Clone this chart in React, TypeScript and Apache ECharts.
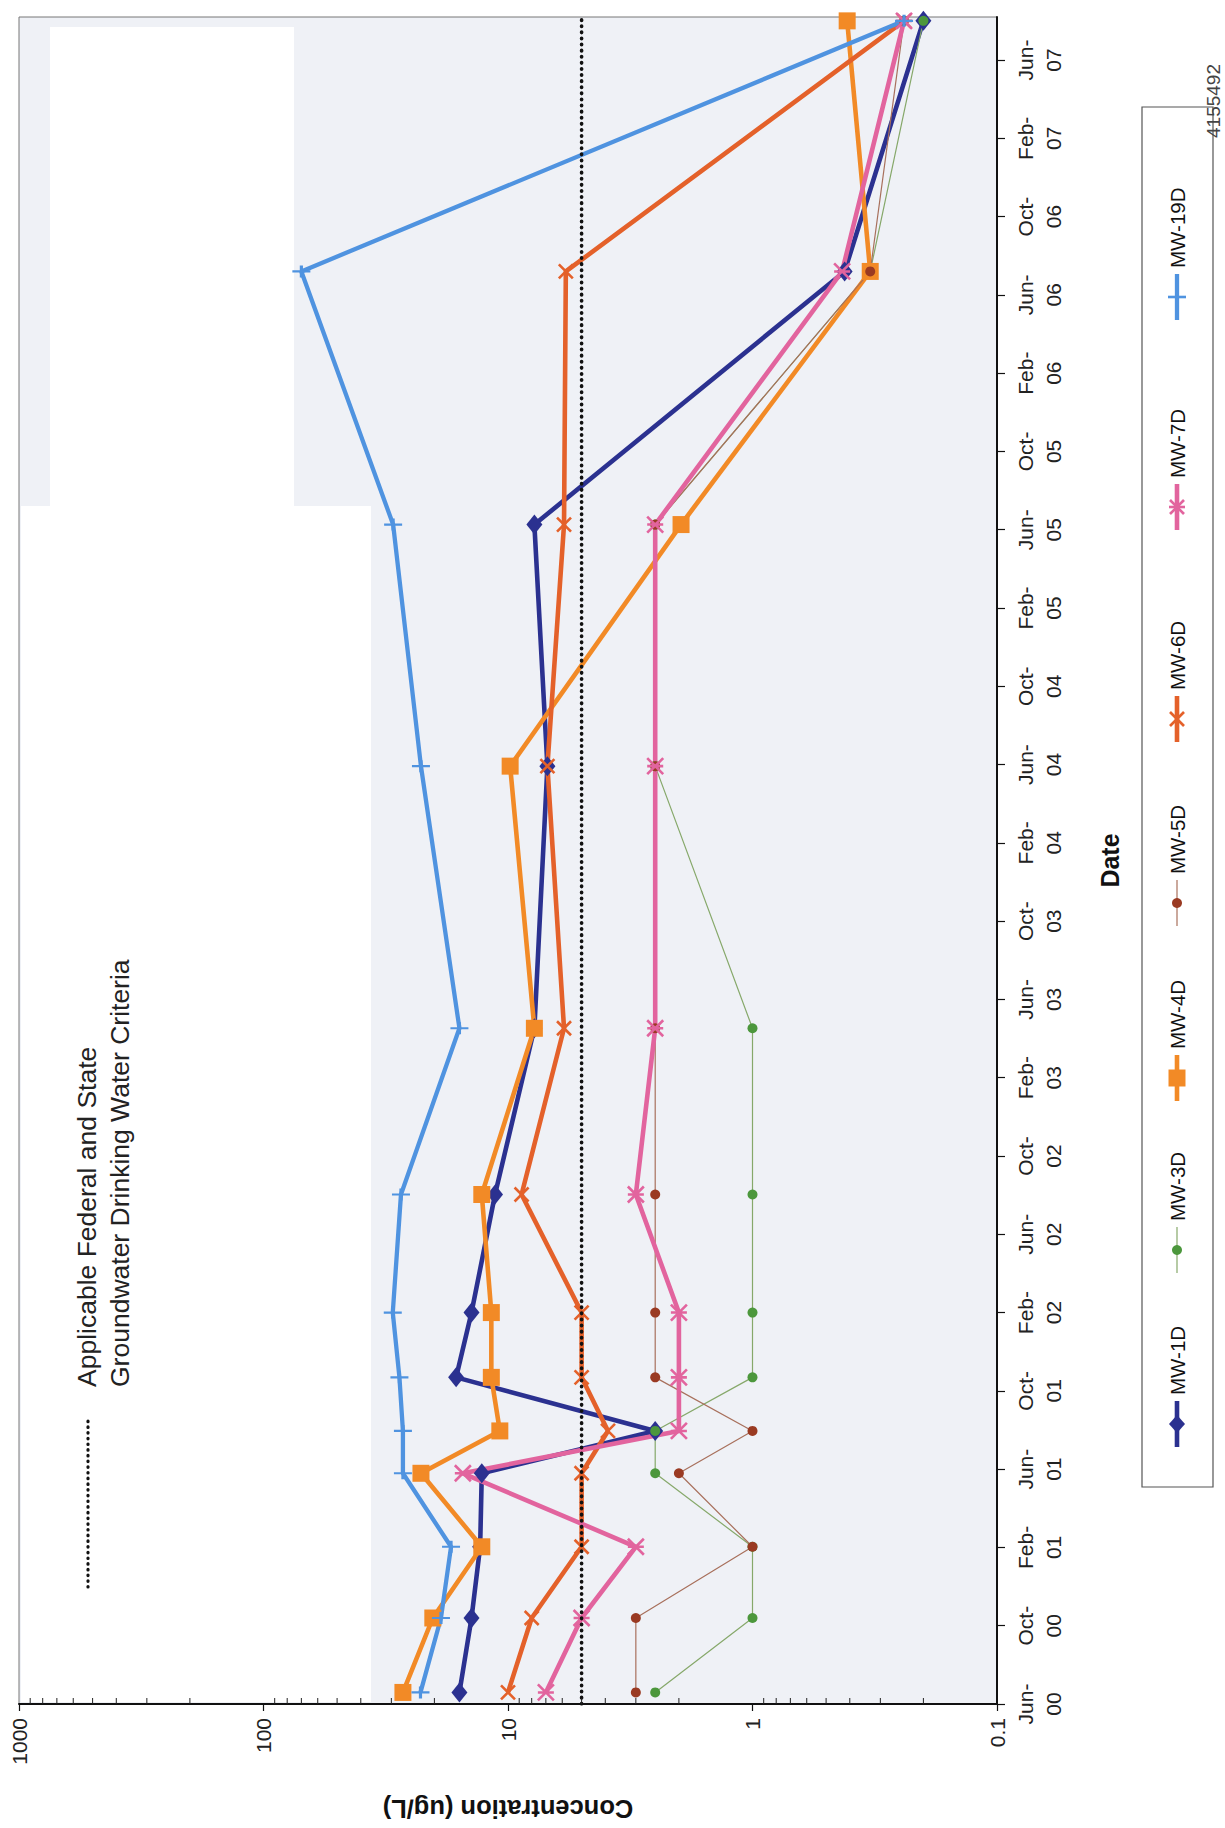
import React, { useEffect, useRef } from 'react';
import * as echarts from 'echarts';

const FONT = '"Liberation Sans", Arial, Helvetica, sans-serif';

// ---- Data ----
const SAMPLE_DATES = [
  '2000-06-19', '2000-10-13', '2001-02-02', '2001-05-25', '2001-07-30', '2001-10-22',
  '2002-02-01', '2002-08-02', '2003-04-17', '2004-05-29', '2005-06-09', '2006-07-07', '2007-08-01',
];
const MW_1D = [15.8, 14.1, 13.0, 12.8, 2.5, 16.3, 14.1, 11.3, 7.8, 6.9, 7.8, 0.42, 0.2];
const MW_3D = [2.5, 1.0, 1.0, 2.5, 2.5, 1.0, 1.0, 1.0, 1.0, 2.5, 2.5, 0.33, 0.2];
const MW_4D = [26.9, 20.3, 12.8, 22.7, 10.8, 11.7, 11.7, 12.8, 7.8, 9.8, 1.96, 0.33, 0.41];
const MW_5D = [3.0, 3.0, 1.0, 2.0, 1.0, 2.5, 2.5, 2.5, 2.5, 2.5, 2.5, 0.33, 0.24];
const MW_6D = [10, 8.0, 5.0, 5.0, 3.9, 5.0, 5.0, 8.8, 5.9, 6.9, 5.9, 5.8, 0.24];
const MW_7D = [7.0, 5.0, 3.0, 15.3, 2.0, 2.0, 2.0, 3.0, 2.5, 2.5, 2.5, 0.43, 0.24];
const MW_19D = [22.8, 18.8, 17.1, 26.9, 26.9, 27.8, 29.6, 27.4, 15.8, 22.7, 29.5, 70, 0.24];

const CRITERIA = 5;
const AXIS_START_DATE = '2000-06-01';
const AXIS_END_DATE = '2007-08-07';

const DATE_TICK_LABELS = [
  'Jun-\n00', 'Oct-\n00', 'Feb-\n01', 'Jun-\n01', 'Oct-\n01', 'Feb-\n02', 'Jun-\n02', 'Oct-\n02',
  'Feb-\n03', 'Jun-\n03', 'Oct-\n03', 'Feb-\n04', 'Jun-\n04', 'Oct-\n04', 'Feb-\n05', 'Jun-\n05',
  'Oct-\n05', 'Feb-\n06', 'Jun-\n06', 'Oct-\n06', 'Feb-\n07', 'Jun-\n07',
];
const MONTHS_PER_TICK = 4;
const CONC_TICKS = [0.1, 1, 10, 100, 1000];
const CONC_TICK_LABELS = ['0.1', '1', '10', '100', '1000'];
const MINOR_TICKS = [
  0.2, 0.3, 0.4, 0.5, 0.6, 0.7, 0.8, 0.9,
  2, 3, 4, 5, 6, 7, 8, 9,
  20, 30, 40, 50, 60, 70, 80, 90,
  200, 300, 400, 500, 600, 700, 800, 900,
];

// ---- Styles ----
const X_PATH = 'path://M0,0L10,10M10,0L0,10';
const AST_PATH = 'path://M0,0L10,10M10,0L0,10M0,5L10,5';
const PLUS_PATH = 'path://M0,5L10,5M5,0L5,10';

type Kind = 'diamond' | 'dot' | 'square' | 'x' | 'asterisk' | 'plus';
const SERIES: { name: string; values: number[]; color: string; markColor: string; width: number; kind: Kind }[] = [
  { name: 'MW-1D', values: MW_1D, color: '#2b3190', markColor: '#2b3190', width: 4.6, kind: 'diamond' },
  { name: 'MW-3D', values: MW_3D, color: '#86a86a', markColor: '#4c973c', width: 1.2, kind: 'dot' },
  { name: 'MW-4D', values: MW_4D, color: '#f28a26', markColor: '#f28a26', width: 4.6, kind: 'square' },
  { name: 'MW-5D', values: MW_5D, color: '#a8705c', markColor: '#9a3a22', width: 1.2, kind: 'dot' },
  { name: 'MW-6D', values: MW_6D, color: '#e4612a', markColor: '#e4612a', width: 4.6, kind: 'x' },
  { name: 'MW-7D', values: MW_7D, color: '#e2649e', markColor: '#e2649e', width: 4.6, kind: 'asterisk' },
  { name: 'MW-19D', values: MW_19D, color: '#4f93e0', markColor: '#4f93e0', width: 4.3, kind: 'plus' },
];

function monthsSinceStart(d: string): number {
  const [y, m, day] = d.split('-').map(Number);
  const [y0, m0, d0] = AXIS_START_DATE.split('-').map(Number);
  return (y - y0) * 12 + (m - m0) + (day - d0) / 30.44;
}
const AXIS_MAX = monthsSinceStart(AXIS_END_DATE);
const DATE_TICK_POS = DATE_TICK_LABELS.map((_, i) => i * MONTHS_PER_TICK);

function symbolFor(kind: Kind): { symbol: string; size: number | number[]; stroke: boolean } {
  switch (kind) {
    case 'diamond': return { symbol: 'diamond', size: [16, 20], stroke: false };
    case 'dot': return { symbol: 'circle', size: 10, stroke: false };
    case 'square': return { symbol: 'rect', size: 17, stroke: false };
    case 'x': return { symbol: X_PATH, size: 14, stroke: true };
    case 'asterisk': return { symbol: AST_PATH, size: 16, stroke: true };
    default: return { symbol: PLUS_PATH, size: [18, 12], stroke: true };
  }
}

// ---- Layout (legend / annotation positions) ----
const LEGEND_BOX = { x: 1142, y: 107, w: 71, h: 1380 };
const LEGEND_CX = 1177;
const LEGEND_MARKER_Y = [1424, 1250, 1078, 903, 719, 507, 297];

function legendMarker(kind: Kind, cx: number, cy: number, color: string): any[] {
  const s = { stroke: color, lineWidth: 2.6 };
  switch (kind) {
    case 'diamond':
      return [{ type: 'polygon', shape: { points: [[cx, cy - 9], [cx + 8, cy], [cx, cy + 9], [cx - 8, cy]] }, style: { fill: color } }];
    case 'dot':
      return [{ type: 'circle', shape: { cx, cy, r: 5 }, style: { fill: color } }];
    case 'square':
      return [{ type: 'rect', shape: { x: cx - 8.5, y: cy - 8.5, width: 17, height: 17 }, style: { fill: color } }];
    case 'x':
      return [
        { type: 'line', shape: { x1: cx - 7, y1: cy - 7, x2: cx + 7, y2: cy + 7 }, style: s },
        { type: 'line', shape: { x1: cx + 7, y1: cy - 7, x2: cx - 7, y2: cy + 7 }, style: s },
      ];
    case 'asterisk':
      return [
        { type: 'line', shape: { x1: cx - 7, y1: cy - 7, x2: cx + 7, y2: cy + 7 }, style: s },
        { type: 'line', shape: { x1: cx + 7, y1: cy - 7, x2: cx - 7, y2: cy + 7 }, style: s },
        { type: 'line', shape: { x1: cx - 8, y1: cy, x2: cx + 8, y2: cy }, style: s },
      ];
    default:
      return [{ type: 'line', shape: { x1: cx - 9, y1: cy, x2: cx + 9, y2: cy }, style: s }];
  }
}

function buildOption(): any {
  const lineSeries = SERIES.map((s) => {
    const sym = symbolFor(s.kind);
    return {
      name: s.name,
      type: 'line',
      data: SAMPLE_DATES.map((d, i) => [s.values[i], monthsSinceStart(d)]),
      lineStyle: { color: s.color, width: s.width },
      symbol: sym.symbol,
      symbolSize: sym.size,
      showAllSymbol: true,
      itemStyle: sym.stroke
        ? { color: s.markColor, borderColor: s.markColor, borderWidth: 2.6 }
        : { color: s.markColor, borderWidth: 0 },
      z: 3,
      silent: true,
    };
  });

  const criteriaSeries = {
    name: 'Criteria',
    type: 'line',
    data: [[CRITERIA, 0], [CRITERIA, AXIS_MAX]],
    symbol: 'none',
    lineStyle: { color: '#111', width: 3.6, type: [0.5, 5.6], cap: 'round' },
    z: 4,
    silent: true,
  };

  const minorTickSeries = {
    name: 'minorTicks',
    type: 'custom',
    data: MINOR_TICKS.map((v) => [v, 0]),
    renderItem: (_p: any, api: any) => {
      const pt = api.coord([api.value(0), 0]);
      return {
        type: 'line',
        shape: { x1: pt[0], y1: pt[1], x2: pt[0], y2: pt[1] - 6 },
        style: { stroke: '#222', lineWidth: 1 },
      };
    },
    clip: false,
    silent: true,
    z: 5,
  };

  const graphic: any[] = [
    // scan-like lighter panels inside the plot
    { type: 'rect', shape: { x: 50, y: 27, width: 244, height: 479 }, style: { fill: '#ffffff' }, z: 1, silent: true },
    { type: 'rect', shape: { x: 21, y: 506, width: 350, height: 1196 }, style: { fill: '#ffffff' }, z: 1, silent: true },
    // annotation
    {
      type: 'line', shape: { x1: 88, y1: 1587, x2: 88, y2: 1416 }, z: 6,
      style: { stroke: '#111', lineWidth: 3.2, lineDash: [0.5, 5.2], lineCap: 'round' },
    },
    {
      type: 'text', x: 70, y: 1387, rotation: Math.PI / 2, z: 6,
      style: {
        text: 'Applicable Federal and State\nGroundwater Drinking Water Criteria',
        fontSize: 26.5, fontFamily: FONT, lineHeight: 33,
        fill: '#222', align: 'left', verticalAlign: 'top',
      },
    },
    // legend box
    {
      type: 'rect', shape: { x: LEGEND_BOX.x, y: LEGEND_BOX.y, width: LEGEND_BOX.w, height: LEGEND_BOX.h },
      style: { fill: 'rgba(255,255,255,0)', stroke: '#555', lineWidth: 1.2 }, z: 6,
    },
    // document id
    {
      type: 'text', x: 1213, y: 138, rotation: Math.PI / 2, z: 6,
      style: { text: '4155492', fontSize: 19, fontFamily: FONT, fill: '#444', align: 'left', verticalAlign: 'middle' },
    },
  ];

  SERIES.forEach((s, i) => {
    const cy = LEGEND_MARKER_Y[i];
    graphic.push({
      type: 'line', shape: { x1: LEGEND_CX, y1: cy + 23, x2: LEGEND_CX, y2: cy - 23 },
      style: { stroke: s.color, lineWidth: s.width }, z: 6,
    });
    legendMarker(s.kind, LEGEND_CX, cy, s.markColor).forEach((g) => graphic.push({ ...g, z: 7 }));
    graphic.push({
      type: 'text', x: LEGEND_CX, y: cy - 29, rotation: Math.PI / 2, z: 7,
      style: { text: s.name, fontSize: 20.5, fontFamily: FONT, fill: '#111', align: 'left', verticalAlign: 'middle' },
    });
  });

  return {
    animation: false,
    backgroundColor: '#ffffff',
    textStyle: { fontFamily: FONT },
    grid: {
      left: 19, right: 228, top: 17, bottom: 124,
      show: true, backgroundColor: '#eff1f6', borderColor: '#777', borderWidth: 1,
    },
    xAxis: {
      type: 'log',
      logBase: 10,
      min: 0.1,
      max: 1000,
      inverse: true,
      position: 'bottom',
      axisLine: { show: true, lineStyle: { color: '#111', width: 2 } },
      axisTick: { show: true, length: 7, lineStyle: { color: '#111', width: 1.2 } },
      minorTick: { show: false },
      splitLine: { show: false },
      axisLabel: {
        rotate: 90, margin: 14, fontSize: 21, color: '#222', fontFamily: FONT,
        formatter: (v: number) => {
          const idx = CONC_TICKS.findIndex((t) => Math.abs(Math.log10(t) - Math.log10(v)) < 1e-6);
          return idx >= 0 ? CONC_TICK_LABELS[idx] : '';
        },
      },
      name: 'Concentration (ug/L)',
      nameLocation: 'middle',
      nameRotate: 180,
      nameGap: 92,
      nameTextStyle: { fontSize: 25.5, fontWeight: 'bold', color: '#111', fontFamily: FONT },
    },
    yAxis: {
      type: 'value',
      position: 'right',
      min: 0,
      max: AXIS_MAX,
      interval: MONTHS_PER_TICK,
      axisLine: { show: true, lineStyle: { color: '#111', width: 2 } },
      axisTick: { show: true, length: 8, inside: false, lineStyle: { color: '#111', width: 1.2 }, customValues: DATE_TICK_POS },
      splitLine: { show: false },
      axisLabel: {
        customValues: DATE_TICK_POS,
        rotate: 90, margin: 14, fontSize: 21, lineHeight: 28, color: '#222', fontFamily: FONT, align: 'center',
        formatter: (v: number) => {
          const idx = Math.round(v / MONTHS_PER_TICK);
          return Math.abs(v - idx * MONTHS_PER_TICK) < 1e-6 && DATE_TICK_LABELS[idx] ? DATE_TICK_LABELS[idx] : '';
        },
      },
      name: 'Date',
      nameLocation: 'middle',
      nameRotate: 90,
      nameGap: 100,
      nameTextStyle: { fontSize: 25, fontWeight: 'bold', color: '#111', fontFamily: FONT },
    },
    graphic,
    series: [...lineSeries, criteriaSeries, minorTickSeries],
  };
}

export default function App() {
  const ref = useRef<HTMLDivElement>(null);
  useEffect(() => {
    if (!ref.current) return;
    const chart = echarts.init(ref.current, undefined, { renderer: 'svg' });
    chart.setOption(buildOption());
    return () => {
      chart.dispose();
    };
  }, []);
  return (
    <div
      ref={ref}
      style={{ position: 'absolute', left: 0, top: 0, width: 1225, height: 1828, background: '#ffffff' }}
    />
  );
}
